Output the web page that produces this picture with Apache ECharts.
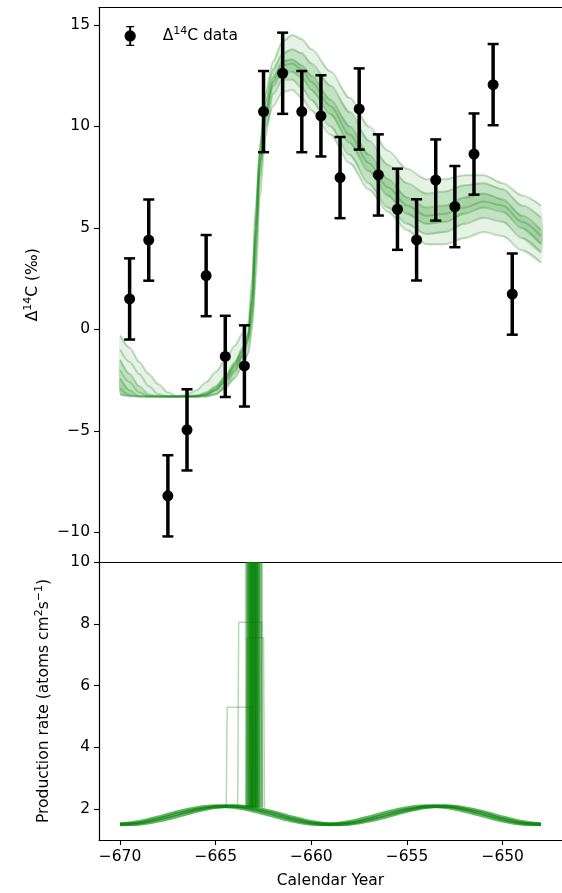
<!DOCTYPE html>
<html>
<head>
<meta charset="utf-8">
<script src="https://cdn.jsdelivr.net/npm/echarts/dist/echarts.min.js"></script>
<style>
html,body{margin:0;padding:0;background:#fff;overflow:hidden;}
#chart{width:562px;height:893px;}
</style>
</head>
<body>
<div id="chart"></div>
<script>
// ---------- data ----------
const X_DATA = [-669.5,-668.5,-667.5,-666.5,-665.5,-664.5,-663.5,-662.5,-661.5,-660.5,-659.5,-658.5,-657.5,-656.5,-655.5,-654.5,-653.5,-652.5,-651.5,-650.5,-649.5];
const Y_DATA = [1.5,4.4,-8.2,-4.95,2.65,-1.33,-1.8,10.73,12.62,10.73,10.52,7.48,10.86,7.61,5.92,4.41,7.36,6.05,8.64,12.06,1.74];
const Y_ERR  = [2,2,2,2,2,2,2,2,2,2,2,2,2,2,2,2,2,2,2,2,2];

const X_TOP = [-670,-669.5,-669,-668.5,-668,-667.5,-667,-666.5,-666,-665.5,-665,-664.5,-664,-663.6,-663.3,-663.1,-662.9,-662.7,-662.4,-662,-661.5,-661,-660.5,-660,-659,-658,-657,-656,-655,-654,-653,-652,-651,-650,-649,-648];
const C1 = [-0.3,-0.9,-1.6,-2.2,-2.7,-3.1,-3.3,-3.3,-3.3,-3.3,-3.2,-2.8,-2.1,-1.3,-0.4,1.5,5.0,8.8,11.6,13.2,14.2,14.5,14.3,13.8,12.7,11.4,10.0,8.8,7.9,7.4,7.4,7.6,7.6,7.2,6.6,6.1];
const C2 = [-1.5,-2.2,-2.8,-3.2,-3.3,-3.3,-3.3,-3.3,-3.3,-3.2,-2.9,-2.4,-1.7,-1.0,-0.2,2.0,6.0,9.0,11.2,12.8,13.6,13.8,13.6,13.1,12.0,10.7,9.3,8.1,7.2,6.7,6.8,7.1,7.2,6.9,6.1,5.5];
const C3 = [-2.4,-3.0,-3.3,-3.3,-3.3,-3.3,-3.3,-3.3,-3.3,-3.2,-3.0,-2.5,-1.8,-1.1,-0.4,1.0,4.5,8.2,10.8,12.4,13.2,13.3,13.0,12.5,11.3,10.0,8.6,7.4,6.5,6.0,6.1,6.5,6.7,6.4,5.6,4.9];
const C4 = [-2.9,-3.25,-3.3,-3.3,-3.3,-3.3,-3.3,-3.3,-3.3,-3.25,-3.0,-2.6,-2.0,-1.3,-0.6,0.5,3.5,7.5,10.5,12.2,13.0,13.1,12.8,12.2,11.0,9.6,8.2,7.0,6.1,5.6,5.7,6.0,6.3,6.1,5.3,4.6];
const C5 = [-3.2,-3.3,-3.3,-3.3,-3.3,-3.3,-3.3,-3.3,-3.25,-3.1,-2.8,-2.3,-1.6,-0.9,-0.2,1.5,5.0,8.0,10.3,12.0,12.7,12.7,12.4,11.8,10.6,9.2,7.8,6.6,5.7,5.2,5.3,5.7,6.0,5.8,5.0,4.2];
const C6 = [-2.0,-2.6,-3.1,-3.3,-3.3,-3.3,-3.3,-3.3,-3.3,-3.3,-3.2,-2.9,-2.4,-1.8,-1.2,0.0,2.5,6.5,9.5,11.6,12.3,12.3,11.9,11.3,10.0,8.6,7.2,6.0,5.2,4.7,4.8,5.2,5.5,5.3,4.5,3.8];
const C7 = [-1.0,-1.6,-2.2,-2.8,-3.2,-3.3,-3.3,-3.2,-3.0,-2.6,-2.1,-1.5,-0.8,-0.2,0.3,2.5,6.0,8.5,10.0,11.0,11.7,11.8,11.4,10.8,9.6,8.2,6.9,5.8,4.9,4.2,4.2,4.5,4.8,4.6,3.9,3.3];
const TOP_CURVES = [C1,C2,C3,C4,C5,C6,C7];
const CORE_CURVES = [C2,C3,C4,C5,C6];
const INNER_CURVES = [C3,C4,C5];

const X_P = [-670,-669,-668,-667,-666,-665,-664,-663,-662,-661,-660,-659,-658,-657,-656,-655,-654,-653,-652,-651,-650,-649,-648];
const P1 = [1.50,1.55,1.68,1.84,1.99,2.08,2.09,2.00,1.85,1.68,1.55,1.50,1.54,1.67,1.83,1.98,2.08,2.09,2.00,1.85,1.68,1.55,1.50];
const P2 = [1.51,1.59,1.74,1.91,2.04,2.10,2.06,1.94,1.78,1.62,1.52,1.51,1.59,1.74,1.91,2.04,2.10,2.06,1.94,1.78,1.62,1.52,1.51];
const P3 = [1.51,1.52,1.62,1.77,1.94,2.06,2.10,2.04,1.91,1.74,1.59,1.51,1.52,1.62,1.77,1.94,2.06,2.10,2.04,1.91,1.74,1.59,1.51];
const PROD_CURVES = [P1,P2,P3];

const PULSE_START = [-663.45,-663.35,-663.25,-663.1,-662.95];
const PULSE_END   = [-663.05,-662.9,-662.8,-662.7,-662.55];
const PULSE_TOP = 40;
const PULSE_BASE = 2.05;
const PLATEAU_START = [-664.45,-663.85,-663.4];
const PLATEAU_END   = [-663.1,-662.55,-662.45];
const PLATEAU_LEVEL = [5.3,8.05,7.55];

const X_TICKS = [-670,-665,-660,-655,-650];
const Y_TOP_TICKS = [-10,-5,0,5,10,15];
const Y_BOT_TICKS = [2,4,6,8,10];

// ---------- chart ----------
const FONT = 'DejaVu Sans';
const FS = 15.5;
const GREEN = '#008000';
const fmt = v => (v < 0 ? '\u2212' + Math.abs(v) : String(v));
const rich = {
  n: {fontFamily: FONT, fontSize: FS, color: '#000'},
  s: {fontFamily: FONT, fontSize: 11, color: '#000', padding: [0, 0, 9, 0]},
  g: {width: 21}
};

const series = [];
function bandSeries(curves, opacity) {
  const lo = X_TOP.map((x, i) => Math.min(...curves.map(c => c[i])));
  const hi = X_TOP.map((x, i) => Math.max(...curves.map(c => c[i])));
  return {
    type: 'custom', xAxisIndex: 0, yAxisIndex: 0, silent: true, z: 1,
    data: [[X_TOP[0], lo[0]]], encode: {x: 0, y: 1},
    renderItem: (params, api) => {
      const up = X_TOP.map((x, i) => api.coord([x, hi[i]]));
      const dn = X_TOP.map((x, i) => api.coord([x, lo[i]])).reverse();
      return {type: 'polygon', shape: {points: up.concat(dn), smooth: 0.25},
        style: {fill: GREEN, opacity: opacity}};
    }
  };
}
series.push(bandSeries(TOP_CURVES, 0.1));
series.push(bandSeries(CORE_CURVES, 0.15));
series.push(bandSeries(INNER_CURVES, 0.15));
TOP_CURVES.forEach(c => {
  series.push({type: 'line', xAxisIndex: 0, yAxisIndex: 0, symbol: 'none', smooth: 0.3, smoothMonotone: 'x',
    lineStyle: {color: GREEN, width: 2, opacity: 0.25}, data: X_TOP.map((x, i) => [x, c[i]]), silent: true, z: 2});
});
// production rate curves
PROD_CURVES.forEach(c => {
  series.push({type: 'line', xAxisIndex: 2, yAxisIndex: 1, symbol: 'none', smooth: 0.3,
    lineStyle: {color: GREEN, width: 3.5, opacity: 0.6}, data: X_P.map((x, i) => [x, c[i]]), silent: true, z: 2});
});
// spikes in the production rate (filled pulses)
series.push({
  type: 'custom', xAxisIndex: 2, yAxisIndex: 1, silent: true, z: 2,
  data: PULSE_START.map((s, i) => [s, PULSE_END[i], PULSE_TOP, PULSE_BASE]),
  encode: {x: [0, 1], y: [2, 3]},
  renderItem: (params, api) => {
    const cs = params.coordSys;
    const a = api.coord([api.value(0), api.value(2)]);
    const b = api.coord([api.value(1), api.value(3)]);
    const top = Math.max(a[1], cs.y);
    return {type: 'rect', shape: {x: a[0], y: top, width: b[0] - a[0], height: b[1] - top},
      style: {fill: GREEN, opacity: 0.55}};
  }
});
PLATEAU_START.forEach((s, i) => {
  const e = PLATEAU_END[i], h = PLATEAU_LEVEL[i];
  series.push({type: 'line', xAxisIndex: 2, yAxisIndex: 1, symbol: 'none', clip: true,
    lineStyle: {color: GREEN, width: 1.5, opacity: 0.3},
    data: [[s, PULSE_BASE], [s + 0.05, h], [e - 0.05, h], [e, PULSE_BASE]], silent: true, z: 2});
});
// error bars
series.push({
  type: 'custom', xAxisIndex: 0, yAxisIndex: 0, z: 5, silent: true,
  data: X_DATA.map((x, i) => [x, Y_DATA[i], Y_ERR[i]]),
  encode: {x: 0, y: 1},
  renderItem: (params, api) => {
    const x = api.value(0), y = api.value(1), e = api.value(2);
    const t = api.coord([x, y + e]), b = api.coord([x, y - e]);
    const hw = 5.5;
    return {type: 'group', children: [
      {type: 'line', shape: {x1: t[0], y1: t[1], x2: b[0], y2: b[1]}, style: {stroke: '#000', lineWidth: 3.5}},
      {type: 'line', shape: {x1: t[0] - hw, y1: t[1], x2: t[0] + hw, y2: t[1]}, style: {stroke: '#000', lineWidth: 2.5}},
      {type: 'line', shape: {x1: b[0] - hw, y1: b[1], x2: b[0] + hw, y2: b[1]}, style: {stroke: '#000', lineWidth: 2.5}}
    ]};
  }
});
series.push({
  type: 'scatter', name: 'd14c', xAxisIndex: 0, yAxisIndex: 0, z: 6, symbol: 'circle', symbolSize: 11,
  itemStyle: {color: '#000', opacity: 1}, data: X_DATA.map((x, i) => [x, Y_DATA[i]])
});

const XMIN = -671.1, XMAX = -646.9;
const axisLineStyle = {show: true, onZero: false, lineStyle: {color: '#000', width: 1.2}};
const tickStyle = {length: 5, lineStyle: {color: '#000', width: 1.1}};

const option = {
  animation: false,
  backgroundColor: '#fff',
  textStyle: {fontFamily: FONT},
  grid: [
    {left: 99, right: -3, top: 7.5, height: 554.5},
    {left: 99, right: -3, top: 562, height: 278}
  ],
  legend: {
    data: [{name: 'd14c', icon: 'path://M4,0H16V2H4Z M8.5,0H11.5V30H8.5Z M4,28H16V30H4Z M1.5,15A8.5,8.5 0 1,1 18.5,15A8.5,8.5 0 1,1 1.5,15Z'}],
    left: 124.5, top: 26, padding: 0, itemWidth: 13, itemHeight: 20,
    formatter: () => '{g|}{n|\u0394}{s|14}{n|C data}',
    textStyle: {rich: rich},
    itemStyle: {color: '#000', opacity: 1},
    selectedMode: false
  },
  xAxis: [
    {gridIndex: 0, type: 'value', min: XMIN, max: XMAX, position: 'bottom', axisLine: axisLineStyle,
      axisTick: {show: false}, axisLabel: {show: false}, splitLine: {show: false}},
    {gridIndex: 0, type: 'value', min: XMIN, max: XMAX, position: 'top', axisLine: axisLineStyle,
      axisTick: {show: false}, axisLabel: {show: false}, splitLine: {show: false}},
    {gridIndex: 1, type: 'value', min: XMIN, max: XMAX, position: 'bottom', axisLine: axisLineStyle,
      axisTick: Object.assign({customValues: X_TICKS}, tickStyle),
      axisLabel: {customValues: X_TICKS, formatter: fmt, fontFamily: FONT, fontSize: FS, color: '#000', margin: 9},
      splitLine: {show: false},
      name: 'Calendar Year', nameLocation: 'middle', nameGap: 33,
      nameTextStyle: {fontFamily: FONT, fontSize: FS, color: '#000'}}
  ],
  yAxis: [
    {gridIndex: 0, type: 'value', min: -11.46, max: 15.86, axisLine: axisLineStyle,
      axisTick: Object.assign({customValues: Y_TOP_TICKS}, tickStyle),
      axisLabel: {customValues: Y_TOP_TICKS, formatter: fmt, fontFamily: FONT, fontSize: FS, color: '#000', margin: 9},
      splitLine: {show: false},
      name: '{n|\u0394}{s|14}{n|C (\u2030)}', nameLocation: 'middle', nameGap: 56,
      nameTextStyle: {rich: rich}},
    {gridIndex: 1, type: 'value', min: 1.0, max: 10, axisLine: axisLineStyle,
      axisTick: Object.assign({customValues: Y_BOT_TICKS}, tickStyle),
      axisLabel: {customValues: Y_BOT_TICKS, formatter: fmt, fontFamily: FONT, fontSize: FS, color: '#000', margin: 9},
      splitLine: {show: false},
      name: '{n|Production rate (atoms cm}{s|2}{n|s}{s|\u22121}{n|)}', nameLocation: 'middle', nameGap: 45,
      nameTextStyle: {rich: rich}}
  ],
  series: series
};
const chart = echarts.init(document.getElementById('chart'), null, {renderer: 'canvas'});
chart.setOption(option);
</script>
</body>
</html>
